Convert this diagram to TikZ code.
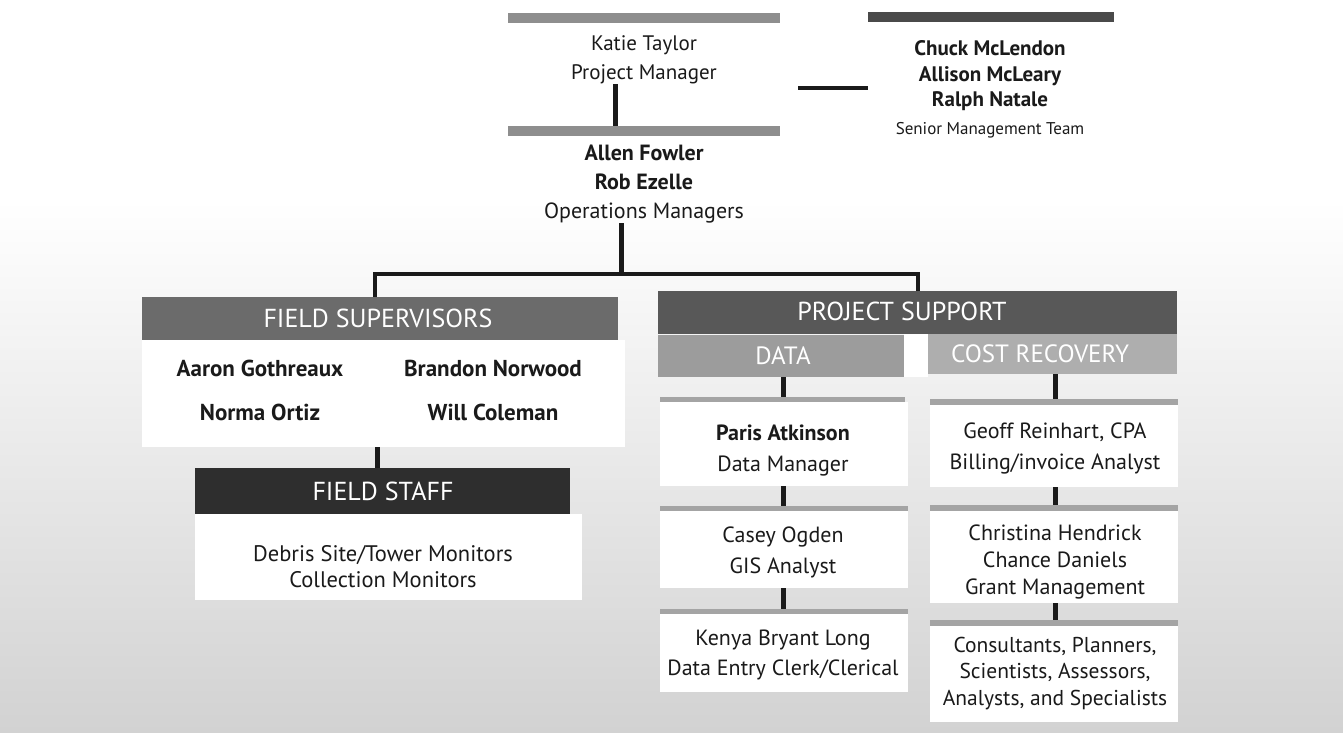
\documentclass[tikz,border=0pt]{standalone}
\usepackage{fontspec}
\setmainfont{PT Sans}
\definecolor{gTop}{HTML}{8E8E8E}
\definecolor{gSen}{HTML}{4A4A4A}
\definecolor{gFS}{HTML}{6B6B6B}
\definecolor{gFSt}{HTML}{2E2E2E}
\definecolor{gPS}{HTML}{585858}
\definecolor{gData}{HTML}{9C9C9C}
\definecolor{gCost}{HTML}{AEAEAE}
\definecolor{gStripe}{HTML}{A4A4A4}
\definecolor{bgDark}{HTML}{D2D2D2}
\definecolor{ink}{HTML}{1A1A1A}
\begin{document}
\begin{tikzpicture}[x=1pt,y=-1pt,
  bar/.style={fill=#1,draw=none,inner sep=0pt},
  wbox/.style={fill=white,draw=none,inner sep=0pt},
  conn/.style={line width=5pt,ink},
  txt/.style={inner sep=0pt,align=center,text=ink,font=\fontsize{22}{29}\selectfont},
  head/.style={inner sep=0pt,text=white,font=\fontsize{26}{30}\selectfont},
  sub/.style={inner sep=0pt,text=white,font=\fontsize{25}{29}\selectfont}]
\useasboundingbox (0,0) rectangle (1343,732);
% paper with a grey screen growing towards the bottom
\fill[white] (0,0) rectangle (1343,732);
\shade[top color=white,bottom color=bgDark] (0,200) rectangle (1343,732);

% ---------- project manager and operations managers
\node[bar=gTop,minimum width=272pt,minimum height=10pt] (pmbar) at (644,18) {};
\node[txt,font=\fontsize{21}{29}\selectfont] (pm) at (644,60) {Katie Taylor\\Project Manager};
\node[bar=gTop,minimum width=272pt,minimum height=10pt] (ombar) at (644,131) {};
\node[txt] (om) at (644,184) {\textbf{Allen Fowler}\\\textbf{Rob Ezelle}\\Operations Managers};
\draw[conn] ([xshift=-29pt]pm.south) -- ([xshift=-29pt]ombar.north);

% ---------- senior management team
\node[bar=gSen,minimum width=246pt,minimum height=10pt] (smbar) at (991,17) {};
\node[txt,font=\fontsize{21}{25.5}\selectfont\bfseries] (smn) at (990,76) {Chuck McLendon\\Allison McLeary\\Ralph Natale};
\node[txt,font=\fontsize{17}{22}\selectfont] (smt) at (990,130) {Senior Management Team};
\coordinate (smlink) at (798,88);
\draw[line width=4pt,ink] (smlink) -- (smlink -| smbar.west);

% ---------- field supervisors
\node[wbox,minimum width=483pt,minimum height=107pt] (fsbox) at (383.5,393.5) {};
\node[bar=gFS,minimum width=476pt,minimum height=43pt] (fsbar) at (380,318.5) {};
\node[head] (fshead) at (378,318) {FIELD SUPERVISORS};
\node[txt,font=\fontsize{23}{26}\selectfont\bfseries] (ag) at (260,368) {Aaron Gothreaux};
\node[txt,font=\fontsize{23}{26}\selectfont\bfseries] (bn) at (493,368) {Brandon Norwood};
\node[txt,font=\fontsize{23}{26}\selectfont\bfseries] (no) at (260,412) {Norma Ortiz};
\node[txt,font=\fontsize{23}{26}\selectfont\bfseries] (wc) at (493,412) {Will Coleman};

% ---------- field staff
\node[wbox,minimum width=387pt,minimum height=86pt] (fstbox) at (388.5,557) {};
\node[bar=gFSt,minimum width=375pt,minimum height=46pt] (fstbar) at (382.5,491) {};
\node[head] (fsthead) at (383,491) {FIELD STAFF};
\node[txt,font=\fontsize{22.5}{26}\selectfont] (mon) at (383,567) {Debris Site/Tower Monitors\\Collection Monitors};
\draw[conn] ([xshift=-6pt]fsbox.south) -- ([xshift=-6pt]fsbox.south |- fstbar.north);

% ---------- project support
\node[bar=gPS,minimum width=519pt,minimum height=43pt] (psbar) at (917.5,312.5) {};
\node[head] (pshead) at (902,311) {PROJECT SUPPORT};
\node[wbox,minimum width=24pt,minimum height=43pt] (psgap) at (916,355.5) {};
\node[bar=gData,minimum width=246pt,minimum height=42pt] (databar) at (781,356) {};
\node[sub] (datahead) at (783,356) {DATA};
\node[bar=gCost,minimum width=249pt,minimum height=40pt] (costbar) at (1052.5,354) {};
\node[sub] (costhead) at (1040,354) {COST RECOVERY};

% split from operations managers
\coordinate (hub) at (621,274);
\draw[conn] (om.south -| hub) -- (hub);
\draw[conn,line width=4pt] ([xshift=-5pt]fsbar.north) |- (hub) -| (psbar.north);

% ---------- data column
\node[wbox,minimum width=248pt,minimum height=84pt] (pabox) at (784,444) {};
\node[bar=gStripe,minimum width=245pt,minimum height=5pt] (pastr) at (782.5,399.5) {};
\node[txt,font=\fontsize{22}{31}\selectfont] (pa) at (783,450) {\textbf{Paris Atkinson}\\Data Manager};
\node[wbox,minimum width=248pt,minimum height=77pt] (cobox) at (784,549.5) {};
\node[bar=gStripe,minimum width=248pt,minimum height=5pt] (costr) at (784,508.5) {};
\node[txt,font=\fontsize{22}{31}\selectfont] (co) at (783,552) {Casey Ogden\\GIS Analyst};
\node[wbox,minimum width=248pt,minimum height=78pt] (kbbox) at (784,653) {};
\node[bar=gStripe,minimum width=248pt,minimum height=5pt] (kbstr) at (784,611.5) {};
\node[txt,font=\fontsize{22}{30}\selectfont] (kb) at (783,655) {Kenya Bryant Long\\Data Entry Clerk/Clerical};
\draw[conn] (databar.south -| pa) -- (pastr.north -| pa);
\draw[conn] (pabox.south -| pa) -- (costr.north -| pa);
\draw[conn] (cobox.south -| pa) -- (kbstr.north -| pa);

% ---------- cost recovery column
\node[wbox,minimum width=248pt,minimum height=82pt] (grbox) at (1054,446) {};
\node[bar=gStripe,minimum width=248pt,minimum height=6pt] (grstr) at (1054,402) {};
\node[txt,font=\fontsize{22}{31}\selectfont] (gr) at (1055,448.5) {Geoff Reinhart, CPA\\Billing/invoice Analyst};
\node[wbox,minimum width=248pt,minimum height=92pt] (chbox) at (1054,557) {};
\node[bar=gStripe,minimum width=248pt,minimum height=6pt] (chstr) at (1054,508) {};
\node[txt,font=\fontsize{22}{27}\selectfont] (ch) at (1055,562) {Christina Hendrick\\Chance Daniels\\Grant Management};
\node[wbox,minimum width=248pt,minimum height=96pt] (ctbox) at (1054,674) {};
\node[bar=gStripe,minimum width=248pt,minimum height=6pt] (ctstr) at (1054,623) {};
\node[txt,font=\fontsize{21.5}{26.5}\selectfont] (ct) at (1055,673.5) {Consultants, Planners,\\Scientists, Assessors,\\Analysts, and Specialists};
\draw[conn] (costbar.south -| gr) -- (grstr.north -| gr);
\draw[conn] (grbox.south -| gr) -- (chstr.north -| gr);
\draw[conn] (chbox.south -| gr) -- (ctstr.north -| gr);
\end{tikzpicture}
\end{document}
